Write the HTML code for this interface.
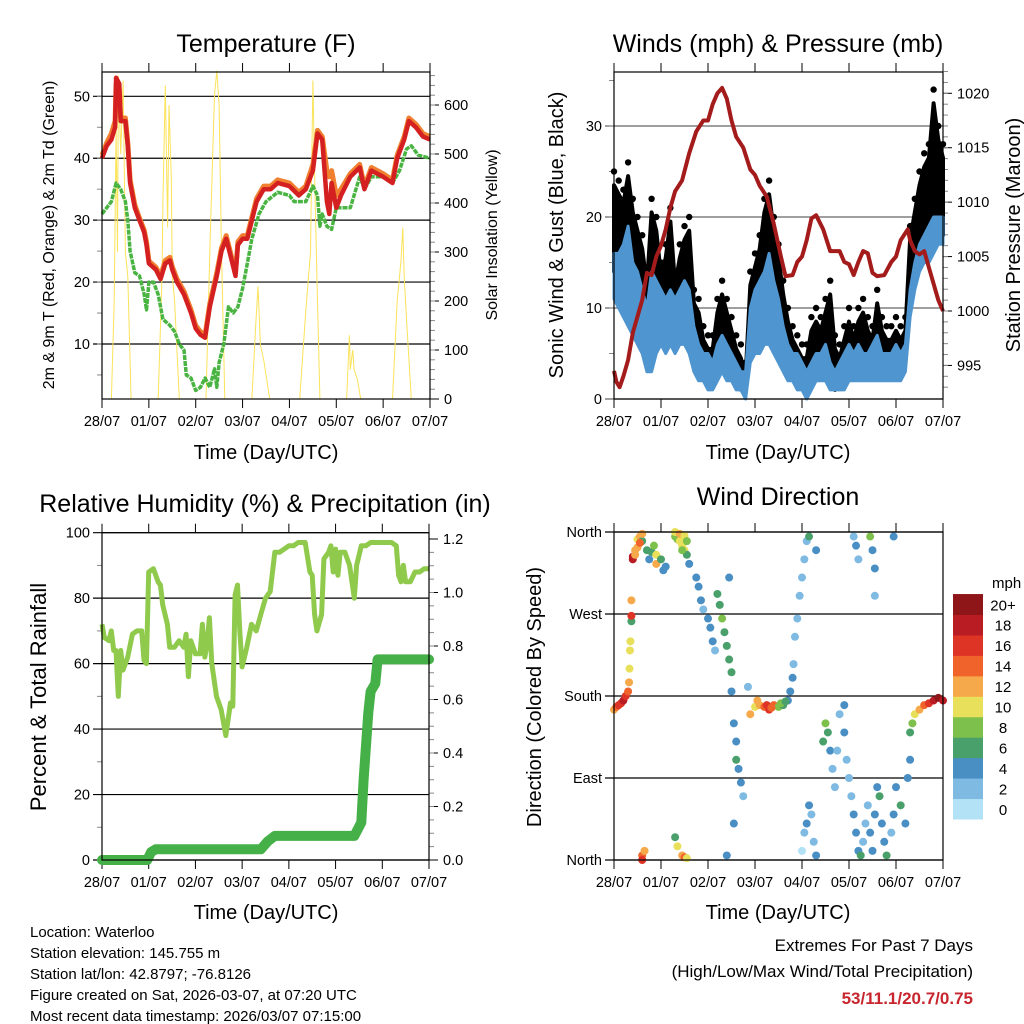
<!DOCTYPE html>
<html><head><meta charset="utf-8"><style>
html,body{margin:0;padding:0;background:#fff;}
svg{display:block;font-family:"Liberation Sans",Arial,sans-serif;}
</style></head><body>
<svg id="chart" width="1024" height="1024" viewBox="0 0 1024 1024" xmlns="http://www.w3.org/2000/svg">
<rect width="1024" height="1024" fill="#fff"/>
<text x="266" y="52" font-size="25" text-anchor="middle">Temperature (F)</text>
<text x="778" y="52" font-size="25" text-anchor="middle">Winds (mph) &amp; Pressure (mb)</text>
<text x="265" y="512" font-size="25" text-anchor="middle">Relative Humidity (%) &amp; Precipitation (in)</text>
<text x="778" y="505" font-size="25" text-anchor="middle">Wind Direction</text>
<text transform="translate(54,235) rotate(-90)" font-size="16" text-anchor="middle">2m &amp; 9m T (Red, Orange) &amp; 2m Td (Green)</text>
<text transform="translate(497,235) rotate(-90)" font-size="16" text-anchor="middle">Solar Insolation (Yellow)</text>
<text transform="translate(563,235) rotate(-90)" font-size="20" text-anchor="middle">Sonic Wind &amp; Gust (Blue, Black)</text>
<text transform="translate(1020,235) rotate(-90)" font-size="20" text-anchor="middle">Station Pressure (Maroon)</text>
<text transform="translate(46,697) rotate(-90)" font-size="22" text-anchor="middle">Percent &amp; Total Rainfall</text>
<text transform="translate(541,697) rotate(-90)" font-size="20" text-anchor="middle">Direction (Colored By Speed)</text>
<text x="266" y="459" font-size="20" text-anchor="middle">Time (Day/UTC)</text>
<text x="778" y="459" font-size="20" text-anchor="middle">Time (Day/UTC)</text>
<text x="266" y="919" font-size="20" text-anchor="middle">Time (Day/UTC)</text>
<text x="778" y="919" font-size="20" text-anchor="middle">Time (Day/UTC)</text>
<g font-size="15">
<text x="30" y="937">Location: Waterloo</text>
<text x="30" y="958">Station elevation: 145.755 m</text>
<text x="30" y="979">Station lat/lon: 42.8797; -76.8126</text>
<text x="30" y="1000">Figure created on Sat, 2026-03-07, at 07:20 UTC</text>
<text x="30" y="1021">Most recent data timestamp: 2026/03/07 07:15:00</text>
</g>
<g text-anchor="end">
<text x="973" y="951" font-size="17">Extremes For Past 7 Days</text>
<text x="973" y="977" font-size="17">(High/Low/Max Wind/Total Precipitation)</text>
<text x="973" y="1004" font-size="17" font-weight="bold" fill="#c8262e">53/11.1/20.7/0.75</text>
</g>
<text x="992" y="588" font-size="15">mph</text>
</svg>
<script>
// ---- data ----
const dayLabels=["28/07","01/07","02/07","03/07","04/07","05/07","06/07","07/07"];
const tempT=[0,0.1,0.2,0.28,0.3,0.37,0.4,0.5,0.55,0.6,0.7,0.8,0.9,0.95,1.0,1.15,1.25,1.35,1.45,1.5,1.6,1.75,1.9,2.0,2.1,2.2,2.3,2.45,2.55,2.65,2.75,2.85,2.9,3.0,3.1,3.2,3.3,3.45,3.6,3.75,4.0,4.2,4.35,4.5,4.6,4.7,4.8,4.85,4.9,5.0,5.1,5.3,5.5,5.6,5.75,6.0,6.2,6.3,6.45,6.55,6.7,6.85,7.0];
const temp2m=[40,42,43,45,53,52,46,46,42,36,32,30,28,26,23,22,20.5,23,23.5,22,20,18,15,12.5,11.5,11,16,21,25,27,24,21,26,27,27,30,33,35,35,36,35.5,34,35,38,44,43,33,31,36,32,34,37,38.5,35,38,37,36,40,43,46,45,43.5,43];
const temp9m=[40.5,42.5,44,46,52,51,46.5,46.5,42.5,36.5,32.5,30.3,28.4,26.5,23.4,22.4,21,23.5,24,22.5,20.5,18.5,15.5,13,12,11.5,16.5,21.5,25.5,27.5,24.5,21.5,26.5,27.5,27.5,30.5,33.5,35.5,35.5,36.5,36,34.5,35.5,39,44.5,43.5,38,37,38,34,35,37.5,39,35.5,38.5,37.5,36.5,40.5,43.5,46.5,45.5,44,43.5];
const dewT=[0,0.1,0.2,0.3,0.4,0.5,0.55,0.6,0.7,0.8,0.9,0.95,1.0,1.1,1.2,1.3,1.45,1.55,1.65,1.75,1.8,1.9,2.0,2.1,2.2,2.3,2.4,2.45,2.5,2.6,2.7,2.8,2.9,3.0,3.1,3.2,3.35,3.5,3.75,4.0,4.1,4.35,4.5,4.6,4.65,4.7,4.8,4.9,5.0,5.1,5.3,5.5,5.6,5.75,6.0,6.2,6.35,6.5,6.6,6.75,7.0];
const dewpoint=[31,32,33,36,35,33,30,25,21.5,21,18,15.5,20,20,18,14,13,12,10,9,5,4.5,2.5,3,4.5,3,6,3,7,10,16,15,16,19,23,27,31,33,34.5,34,33,33,35.5,34,29,31,29,28.5,32,32,32,37,35,37,37,36,38,41.5,42,40.5,40];
const solarT=[0,0.2,0.26,0.3,0.33,0.35,0.4,0.45,0.5,0.55,0.62,1.2,1.28,1.3,1.35,1.4,1.43,1.48,1.5,1.55,1.65,2.22,2.3,2.4,2.45,2.5,2.55,2.62,3.2,3.28,3.33,3.38,3.45,3.58,4.22,4.35,4.45,4.5,4.55,4.6,4.65,5.22,5.28,5.3,5.35,5.38,5.45,5.52,6.2,6.3,6.38,6.42,6.45,6.5,6.6,7.0];
const solar=[0,0,200,550,300,660,500,650,300,250,0,0,250,400,640,350,600,450,250,200,0,0,300,620,670,600,300,0,0,150,230,110,80,0,0,180,300,650,400,200,0,0,130,60,100,60,40,0,0,200,280,350,250,160,0,0];
const presT=[0,0.05,0.12,0.2,0.3,0.4,0.5,0.6,0.7,0.8,0.9,1.0,1.1,1.2,1.3,1.45,1.6,1.75,1.9,2.0,2.1,2.2,2.3,2.4,2.5,2.6,2.75,2.9,3.0,3.1,3.25,3.4,3.55,3.65,3.8,3.9,4.0,4.1,4.2,4.3,4.45,4.6,4.8,4.9,5.0,5.1,5.2,5.3,5.4,5.5,5.6,5.75,5.9,6.0,6.1,6.25,6.3,6.4,6.5,6.6,6.7,6.8,6.9,7.0];
const pressure=[994.5,993.5,993,994,995.5,998,999.5,1001,1003.5,1003.3,1005,1006,1007.5,1009.5,1011,1012,1014.5,1016.5,1017.5,1017.5,1019,1020,1020.5,1019.5,1017.5,1016,1015,1013,1012.5,1011.5,1010.5,1008,1005,1003.2,1003.3,1004.5,1005,1006.5,1008.5,1008.8,1007.5,1005.5,1005.5,1004.5,1004.3,1003.3,1004.5,1005.5,1005.3,1003.5,1003.2,1003.3,1004.5,1005,1006.5,1007.5,1006.5,1005.5,1005.2,1005.5,1004,1002.5,1001,1000];
const windT=[0,0.1,0.2,0.3,0.4,0.5,0.6,0.7,0.8,0.9,1.0,1.1,1.2,1.3,1.4,1.5,1.6,1.7,1.8,1.9,2.0,2.1,2.2,2.3,2.4,2.5,2.6,2.7,2.8,2.9,3.0,3.1,3.2,3.3,3.4,3.5,3.6,3.7,3.8,3.9,4.0,4.1,4.2,4.3,4.4,4.5,4.6,4.7,4.8,4.9,5.0,5.1,5.2,5.3,5.4,5.5,5.6,5.7,5.8,5.9,6.0,6.1,6.2,6.3,6.4,6.5,6.6,6.7,6.8,6.9,7.0];
const windLo=[11,10,9,8,7,6,5,3,3,5,6,5,6,5,6,6,5,3,2,2,1,1,2,3,2,2,1,1,0,4,5,5,6,6,5,4,3,2,2,1,1,0,1,2,2,2,1,1,1,1,2,2,2,2,2,2,2,2,2,2,2,2,3,9,12,14,15,15,16,17,17];
const windHi=[16,16,17,19,15,14,12,10,14,13,12,11,12,11,12,13,12,8,6,5,5,4,6,7,6,5,4,3,3,10,12,13,14,16,13,11,8,6,5,5,4,3,4,5,5,6,4,3,4,5,6,5,6,5,5,6,7,5,5,5,6,5,6,12,15,17,18,19,20,20,20];
const gust=[25,24,23,26,22,20,18,14,22,20,15,17,21,14,17,19,20,12,11,8,7,7,11,13,11,9,7,6,4,14,16,18,22,24,20,17,13,10,8,7,6,6,9,10,9,11,13,7,6,8,10,8,10,11,9,8,12,9,8,8,9,8,9,19,22,25,27,28,34,30,28];
const dirT=[0,0.05,0.1,0.15,0.2,0.25,0.3,0.32,0.33,0.34,0.35,0.37,0.37,0.37,0.4,0.4,0.45,0.5,0.55,0.6,0.7,0.75,0.8,0.85,0.9,0.9,1.0,1.05,1.1,1.3,1.35,1.4,1.45,1.5,1.55,1.6,1.75,1.8,1.85,1.9,2.0,2.05,2.1,2.15,2.2,2.25,2.3,2.35,2.4,2.45,2.5,2.5,2.45,2.55,2.6,2.6,2.65,2.7,2.75,2.55,2.4,2.85,2.9,3.0,3.1,3.2,3.3,3.4,3.5,3.6,3.7,3.75,3.8,3.82,3.85,3.9,3.95,4.0,4.05,4.1,4.15,4.3,4.0,4.05,4.1,4.15,4.2,4.25,4.3,4.45,4.5,4.55,4.6,4.65,4.7,4.75,4.8,4.9,4.9,4.95,5.0,5.05,5.1,5.15,5.2,5.25,5.3,5.35,5.4,5.45,5.5,5.55,5.6,5.65,5.7,5.75,5.8,5.9,5.95,6.0,6.1,6.2,6.25,6.3,6.3,6.35,6.4,6.5,6.6,6.7,6.8,6.9,7.0,5.1,5.15,5.2,5.45,5.5,5.55,5.55,5.95,0.6,0.65,0.6,1.3,1.35,1.45,1.5,1.55,0.45,0.5,0.55,0.6,1.3,1.4,1.5,1.55,1.45,3.05,3.25,3.35,3.55,3.65];
const dirDeg=[165,168,170,172,175,180,185,195,210,230,240,262,268,285,330,333,340,352,355,350,340,330,338,345,335,325,330,318,322,355,352,350,345,340,335,325,310,300,285,275,265,255,240,230,292,280,265,250,235,220,206,185,310,150,130,110,100,85,70,40,5,190,160,168,170,168,165,170,168,170,175,185,200,215,245,265,290,310,330,350,355,340,10,30,40,60,50,20,5,130,150,140,120,100,80,120,160,170,140,110,90,70,50,30,10,5,20,40,60,30,10,50,80,70,40,20,5,30,50,80,60,40,90,110,140,150,160,165,170,172,175,178,175,355,345,330,355,340,320,290,355,5,10,0,25,15,5,3,2,335,343,348,358,360,358,356,350,340,175,170,167,172,174];
const dirSpeed=[12,14,16,17,18,17,14,12,11,10,10,7,16,13,18,19,12,11,12,6,6,5,7,8,10,12,7,5,5,9,8,11,10,10,7,4,4,5,4,3,4,4,5,3,6,6,8,7,6,6,6,4,4,4,4,6,5,4,3,4,4,2,12,10,12,15,16,14,9,7,4,4,4,2,2,2,2,2,2,2,6,4,1,2,4,4,3,3,4,6,8,7,5,3,3,2,3,5,4,3,2,3,4,4,4,6,3,2,3,4,5,4,4,6,4,5,6,3,4,5,6,4,4,5,7,9,11,13,15,17,18,20,19,2,4,3,8,4,4,3,4,14,12,16,7,10,13,14,10,13,12,14,12,10,12,11,9,8,12,16,14,8,6];
const rhT=[0,0.05,0.15,0.2,0.25,0.3,0.35,0.4,0.45,0.55,0.65,0.75,0.85,0.9,0.95,1.0,1.1,1.2,1.25,1.3,1.4,1.45,1.55,1.65,1.75,1.8,1.85,1.9,2.0,2.1,2.15,2.2,2.25,2.3,2.35,2.45,2.55,2.6,2.65,2.75,2.8,2.85,2.9,2.95,3.0,3.1,3.2,3.3,3.4,3.5,3.6,3.7,3.8,3.9,4.0,4.1,4.2,4.35,4.45,4.5,4.55,4.6,4.7,4.75,4.85,4.9,4.95,5.0,5.05,5.1,5.2,5.3,5.4,5.45,5.55,5.65,5.75,6.0,6.2,6.3,6.35,6.4,6.45,6.5,6.6,6.7,6.8,6.9,7.0];
const rh=[72,68,67,70,64,64,50,64,58,62,69,70,70,61,60,88,89,85,84,78,72,65,65,67,65,69,56,67,63,63,72,62,66,74,60,50,46,42,38,48,47,81,84,70,59,65,72,70,75,80,82,94,94,95,96,96,97,97,88,87,75,70,75,92,94,96,88,95,87,94,94,90,80,90,96,96,97,97,97,96,87,85,90,85,85,88,88,89,89];
const precipT=[0,0.97,1.05,1.15,3.4,3.55,3.7,3.8,5.4,5.55,5.6,5.7,5.75,5.85,5.9,7.0];
const precip=[0,0,0.03,0.04,0.04,0.07,0.09,0.09,0.09,0.14,0.3,0.55,0.63,0.66,0.75,0.75];
const speedColors=["#b3e2f7","#7fbae3","#4a8fc4","#4aa06b","#7dc04b","#e8e05a","#f6a94a","#f0632b","#de3426","#b91c23","#8e1518"];
const speedLabels=["0","2","4","6","8","10","12","14","16","18","20+"];
const dirLabels=["North","East","South","West","North"];

// ---- drawing ----
const NS="http://www.w3.org/2000/svg";
const svg=document.getElementById("chart");
function mk(tag,attrs,parent){const e=document.createElementNS(NS,tag);for(const k in attrs)e.setAttribute(k,attrs[k]);(parent||svg).appendChild(e);return e;}
function lin(d0,d1,r0,r1){return v=>r0+(v-d0)/(d1-d0)*(r1-r0);}
function pts(xs,ys,sx,sy){return xs.map((t,i)=>sx(t).toFixed(1)+","+sy(ys[i]).toFixed(1)).join(" ");}

function frame(name,x0,x1,y0,y1){
  const g=mk("g",{});
  
  
  const sx=lin(0,7,x0,x1);
  for(let d=0;d<=7;d++){
    const x=sx(d);
    const t1=mk("line",{x1:x,x2:x,y1:y0-9,y2:y0,stroke:"#000","stroke-width":1},g);
    
    
    const t2=mk("line",{x1:x,x2:x,y1:y1,y2:y1+9,stroke:"#000","stroke-width":1},g);
    
    
    const lb=mk("text",{x:x,y:y1+27,"font-size":14.5,"text-anchor":"middle"},g);
    lb.textContent=dayLabels[d];
    
    
  }
  return {g,sx};
}
function border(g,x0,x1,y0,y1){
  const r=mk("rect",{x:x0,y:y0,width:x1-x0,height:y1-y0,fill:"none",stroke:"#000","stroke-width":1.2},g);
  
  
}
function leftAxis(g,x0,x1,sy,vals,labels,minor,grid,gcol){
  vals.forEach((v,i)=>{
    const y=sy(v);
    if(grid){const l=mk("line",{x1:x0-9,x2:x1,y1:y,y2:y,stroke:gcol||"#000","stroke-width":1.2},g);
      
      }
    const t=mk("text",{x:x0-12,y:y+5,"font-size":14.5,"text-anchor":"end"},g);
    t.textContent=labels[i];
    
    
  });
  minor.forEach(v=>{const y=sy(v);mk("line",{x1:x0-5,x2:x0,y1:y,y2:y,stroke:"#888","stroke-width":1},g);});
}
function rightAxis(g,x1,sy,vals,labels,minor){
  vals.forEach((v,i)=>{
    const y=sy(v);
    mk("line",{x1:x1,x2:x1+9,y1:y,y2:y,stroke:"#000","stroke-width":1},g);
    const t=mk("text",{x:x1+14,y:y+5,"font-size":14.5},g);
    t.textContent=labels[i];
    
    
  });
  minor.forEach(v=>{const y=sy(v);mk("line",{x1:x1,x2:x1+5,y1:y,y2:y,stroke:"#888","stroke-width":1},g);});
}
function range(a,b,s){const r=[];for(let v=a;v<=b+1e-9;v+=s)r.push(+v.toFixed(3));return r;}

// Panel 1: temperature
(function(){
  const x0=102,x1=430,y0=72,y1=399;
  const {g,sx}=frame('temperature',x0,x1,y0,y1);
  const sy=lin(10,50,344,96.3);
  const sr=lin(0,600,399,105);
  leftAxis(g,x0,x1,sy,[10,20,30,40,50],["10","20","30","40","50"],range(5,55,5).filter(v=>v<=53.9),true);
  rightAxis(g,x1,sr,[0,100,200,300,400,500,600],["0","100","200","300","400","500","600"],range(20,660,20));
  const s=mk("polyline",{points:pts(solarT,solar,sx,sr),fill:"none",stroke:"#fbe35a","stroke-width":1},g);
  
  
  const d=mk("polyline",{points:pts(dewT,dewpoint,sx,sy),fill:"none",stroke:"#4ab442","stroke-width":3.5,"stroke-dasharray":"5 1","stroke-linejoin":"round"},g);
  
  
  const o=mk("polyline",{points:pts(tempT,temp9m,sx,sy),fill:"none",stroke:"#f08030","stroke-width":5,"stroke-linejoin":"round"},g);
  
  
  const r=mk("polyline",{points:pts(tempT,temp2m,sx,sy),fill:"none",stroke:"#d42020","stroke-width":4.5,"stroke-linejoin":"round"},g);
  
  
  border(g,x0,x1,y0,y1);
})();

// Panel 2: winds
(function(){
  const x0=614,x1=943,y0=72,y1=399;
  const {g,sx}=frame('winds',x0,x1,y0,y1);
  const sy=lin(0,30,399,126);
  const sp=lin(1000,1020,311,93.3);
  leftAxis(g,x0,x1,sy,[0,10,20,30],["0","10","20","30"],range(5,35,5),true,"#666");
  rightAxis(g,x1,sp,[995,1000,1005,1010,1015,1020],["995","1000","1005","1010","1015","1020"],range(993,1022,1));
  const top=windT.map((t,i)=>sx(t).toFixed(1)+","+sy(gust[i]-1.5).toFixed(1));
  const bot=windT.map((t,i)=>sx(t).toFixed(1)+","+sy(windHi[i]-2).toFixed(1)).reverse();
  const gb=mk("polygon",{points:top.concat(bot).join(" "),fill:"#000",stroke:"#000","stroke-width":4,"stroke-linejoin":"round"},g);
  
  
  windT.forEach((t,i)=>{
    const c=mk("circle",{cx:sx(t),cy:sy(gust[i]),r:3.2,fill:"#000"},g);
    
    
  });
  const wt=windT.map((t,i)=>sx(t).toFixed(1)+","+sy(windHi[i]).toFixed(1));
  const wb=windT.map((t,i)=>sx(t).toFixed(1)+","+sy(windLo[i]).toFixed(1)).reverse();
  const wband=mk("polygon",{points:wt.concat(wb).join(" "),fill:"#4f95d0",stroke:"#4f95d0","stroke-width":3,"stroke-linejoin":"round"},g);
  
  
  const p=mk("polyline",{points:pts(presT,pressure,sx,sp),fill:"none",stroke:"#a31b1b","stroke-width":4,"stroke-linejoin":"round"},g);
  
  
  border(g,x0,x1,y0,y1);
})();

// Panel 3: RH & precip
(function(){
  const x0=102,x1=429,y0=532.7,y1=860;
  const {g,sx}=frame('humidity',x0,x1,y0,y1);
  const sy=lin(0,100,860,532.7);
  const sp=lin(0,1.2,860,539);
  leftAxis(g,x0,x1,sy,[0,20,40,60,80,100],["0","20","40","60","80","100"],range(10,90,20),true);
  rightAxis(g,x1,sp,[0,0.2,0.4,0.6,0.8,1.0,1.2],["0.0","0.2","0.4","0.6","0.8","1.0","1.2"],range(0.05,1.15,0.05));
  const r=mk("polyline",{points:pts(rhT,rh,sx,sy),fill:"none",stroke:"#8fca4c","stroke-width":5,"stroke-linejoin":"round"},g);
  
  
  const pr=mk("polyline",{points:pts(precipT,precip,sx,sp),fill:"none",stroke:"#46b048","stroke-width":10,"stroke-linejoin":"round","stroke-linecap":"round"},g);
  
  
  border(g,x0,x1,y0,y1);
})();

// Panel 4: wind direction
(function(){
  const x0=614,x1=943,y0=532,y1=860;
  const {g,sx}=frame('wind-direction',x0,x1,y0,y1);
  const sy=lin(0,360,860,532);
  leftAxis(g,x0,x1,sy,[0,90,180,270,360],dirLabels,[],true);
  dirT.forEach((t,i)=>{
    const k=Math.max(0,Math.min(10,Math.floor(dirSpeed[i]/2)));
    const c=mk("circle",{cx:sx(t),cy:sy(dirDeg[i]),r:4,fill:speedColors[k]},g);
    
    
  });
  border(g,x0,x1,y0,y1);
  const cb=mk("g",{});
  
  
  const bh=20.45;
  speedColors.forEach((c,i)=>{
    const y=819-(i+1)*bh;
    const r=mk("rect",{x:953,y:y,width:30,height:bh+0.5,fill:c},cb);
    
    
    const t=mk("text",{x:1003,y:y+bh/2+6,"font-size":15,"text-anchor":"middle"},cb);
    t.textContent=speedLabels[i];
    
    
  });
})();
</script>
</body></html>
